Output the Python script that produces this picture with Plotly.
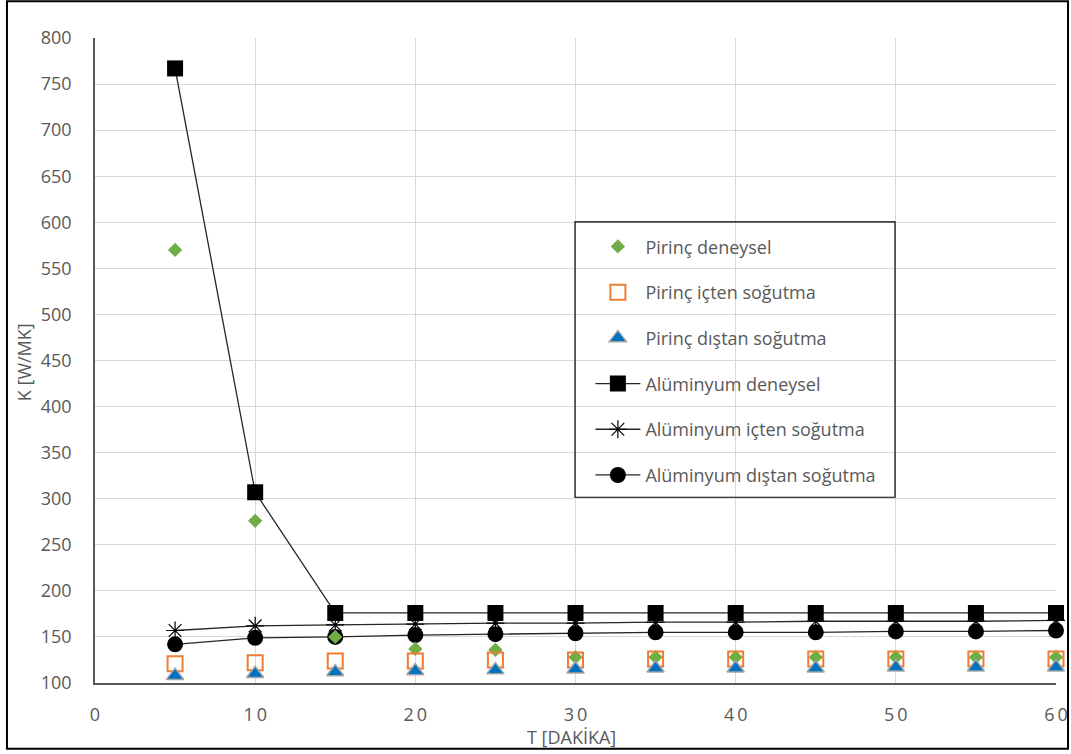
import plotly.graph_objects as go

t = [5, 10, 15, 20, 25, 30, 35, 40, 45, 50, 55, 60]

pirinc_deneysel = [570, 276, 150, 137, 136, 128, 128, 128, 128, 128, 128, 128]
pirinc_icten = [121, 122, 124, 124, 125, 125, 126, 126, 126, 126, 126, 126]
pirinc_distan = [108, 110, 112, 113, 114, 115, 116, 116, 116, 117, 117, 117]
al_deneysel = [767, 307, 176, 176, 176, 176, 176, 176, 176, 176, 176, 176]
al_icten = [157, 162, 163, 164, 165, 165, 166, 166, 167, 167, 167, 168]
al_distan = [142, 149, 150, 152, 153, 154, 155, 155, 155, 156, 156, 157]

names = ["Pirinç deneysel", "Pirinç içten soğutma", "Pirinç dıştan soğutma",
         "Alüminyum deneysel", "Alüminyum içten soğutma", "Alüminyum dıştan soğutma"]
x_ticks = [0, 10, 20, 30, 40, 50, 60]
x_ticktext = ["0", "1\u20090", "2\u20090", "3\u20090", "4\u20090", "5\u20090", "6\u20090"]

FONT = "Open Sans"
GRAY = "#595959"

fig = go.Figure()

# aluminium series (drawn first)
fig.add_trace(go.Scatter(x=t, y=al_deneysel, name=names[3], mode="lines+markers",
                         line=dict(color="#262626", width=1.3),
                         marker=dict(symbol="square", size=16, color="black"),
                         legendrank=4, legendgroup="g4"))
fig.add_trace(go.Scatter(x=t, y=al_icten, name=names[4], mode="lines+markers",
                         line=dict(color="#262626", width=1.3),
                         marker=dict(symbol="asterisk-open", size=15, color="black",
                                     line=dict(color="#262626", width=1.2)),
                         legendrank=5, legendgroup="g5"))
fig.add_trace(go.Scatter(x=t, y=al_distan, name=names[5], mode="lines+markers",
                         line=dict(color="#262626", width=1.3),
                         marker=dict(symbol="circle", size=16, color="black"),
                         legendrank=6, legendgroup="g6"))
# brass series
fig.add_trace(go.Scatter(x=t, y=pirinc_deneysel, name=names[0], mode="markers",
                         marker=dict(symbol="diamond", size=11, color="#70AD47"),
                         legendrank=1, legendgroup="g1"))
fig.add_trace(go.Scatter(x=t, y=pirinc_icten, name=names[1], mode="markers",
                         marker=dict(symbol="square-open", size=15, color="#ED7D31",
                                     line=dict(width=2)),
                         legendrank=2, legendgroup="g2"))
fig.add_trace(go.Scatter(x=t, y=pirinc_distan, name=names[2], mode="markers",
                         marker=dict(symbol="triangle-up", size=15, color="#0070C0",
                                     line=dict(color="#A5A5A5", width=1.5)),
                         legendrank=3, legendgroup="g3"))

fig.update_layout(
    width=1071, height=754,
    margin=dict(l=95, r=15, t=38, b=71),
    paper_bgcolor="white", plot_bgcolor="white",
    font=dict(family=FONT, size=18, color=GRAY),
    legend=dict(x=0.5155, y=0.705, xanchor="left", yanchor="top",
                bgcolor="rgba(0,0,0,0)", borderwidth=0,
                traceorder="grouped", tracegroupgap=19.3, itemwidth=45,
                font=dict(family=FONT, size=18, color=GRAY)),
    xaxis=dict(range=[0, 60], tickmode="array", tickvals=x_ticks, ticktext=x_ticktext,
               showgrid=True, gridcolor="#D9D9D9", gridwidth=1,
               showline=True, linecolor="#595959", linewidth=1.5,
               ticks="", zeroline=False, ticklabelstandoff=15, automargin=False),
    yaxis=dict(range=[100, 800], dtick=50,
               showgrid=True, gridcolor="#D9D9D9", gridwidth=1,
               showline=True, linecolor="#595959", linewidth=1.5,
               ticks="", zeroline=False, ticklabelstandoff=18, automargin=False),
    annotations=[
        dict(text="T [DAKİKA]", xref="paper", yref="paper", x=0.496, y=-0.083,
             xanchor="center", yanchor="middle", showarrow=False,
             font=dict(family=FONT, size=18, color=GRAY)),
        dict(text="K [W/MK]", xref="paper", yref="paper", x=-0.0745, y=0.498,
             xanchor="center", yanchor="middle", showarrow=False, textangle=-90,
             font=dict(family=FONT, size=18, color=GRAY)),
    ],
    shapes=[
        dict(type="rect", xref="paper", yref="paper", x0=0.4995, x1=0.8325, y0=0.288, y1=0.715,
             line=dict(color="black", width=1.2), fillcolor="rgba(0,0,0,0)", layer="above"),
        dict(type="rect", xref="paper", yref="paper", x0=-0.0916, x1=1.0125, y0=-0.102, y1=1.057,
             line=dict(color="black", width=2), fillcolor="rgba(0,0,0,0)", layer="above"),
    ],
)
for tr in fig.data:
    tr.cliponaxis = False

fig.write_html("out.html", config={"displayModeBar": False},
               post_script="document.body.style.margin='0';")
